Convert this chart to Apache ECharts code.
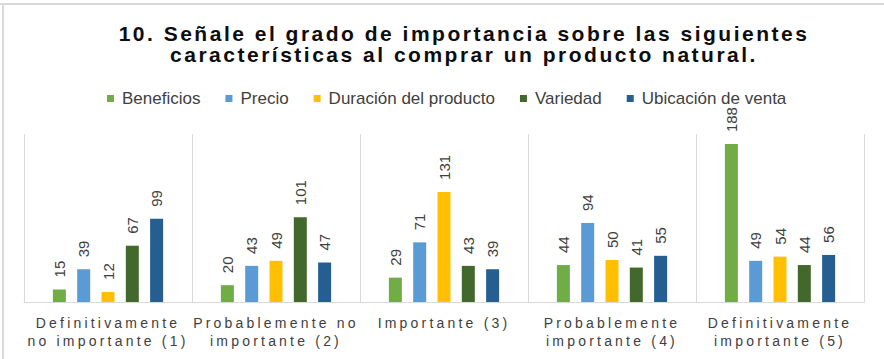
<!DOCTYPE html>
<html>
<head>
<meta charset="utf-8">
<script src="https://cdn.jsdelivr.net/npm/echarts@6/dist/echarts.min.js"></script>
<style>
  html, body { margin: 0; padding: 0; background: #ffffff; }
  #chart { width: 884px; height: 359px; }
  /* spaced lettering for the heading and the category names */
  #chart text[style*="Arial"] { letter-spacing: 2.5px; }
  #chart text[style*="Arimo"] { letter-spacing: 3.2px; }
</style>
</head>
<body>
<div id="chart"></div>
<script>
const categories = [
  'Definitivamente\nno importante (1)',
  'Probablemente no\nimportante (2)',
  'Importante (3)',
  'Probablemente\nimportante (4)',
  'Definitivamente\nimportante (5)'
];
const seriesNames = ['Beneficios', 'Precio', 'Duración del producto', 'Variedad', 'Ubicación de venta'];
const beneficios = [15, 20, 29, 44, 188];
const precio = [39, 43, 71, 94, 49];
const duracion = [12, 49, 131, 50, 54];
const variedad = [67, 101, 43, 41, 44];
const ubicacion = [99, 47, 39, 55, 56];
const colors = ['#70AD47', '#5B9BD5', '#FFC000', '#43682B', '#255E91'];
const titleLines = [
  '10. Señale el grado de importancia sobre las siguientes',
  'características al comprar un producto natural.'
];

const TITLE_FONT = 'Liberation Sans, Arial';
const AXIS_FONT = 'Liberation Sans, Arimo';
const PLAIN = 'Liberation Sans';

const values = [beneficios, precio, duracion, variedad, ubicacion];

const chart = echarts.init(document.getElementById('chart'), null, { renderer: 'svg' });

chart.setOption({
  animation: false,
  backgroundColor: '#ffffff',
  color: colors,
  graphic: [
    { type: 'line', shape: { x1: 0, y1: 4, x2: 884, y2: 4 }, style: { stroke: '#d9d9d9', lineWidth: 2 } },
    { type: 'line', shape: { x1: 3, y1: 3, x2: 3, y2: 359 }, style: { stroke: '#d9d9d9', lineWidth: 2 } },
    {
      type: 'text', x: 464, y: 23,
      style: {
        text: titleLines.join('\n'),
        fontFamily: TITLE_FONT, fontSize: 21, fontWeight: 'bold', lineHeight: 21,
        fill: '#0d0d0d', align: 'center', verticalAlign: 'top'
      }
    }
  ],
  legend: {
    left: 102, top: 85,
    itemWidth: 7, itemHeight: 7, itemGap: 25,
    icon: 'rect',
    textStyle: { fontFamily: PLAIN, fontSize: 17, color: '#404040', padding: [0, 0, 0, 3] },
    data: seriesNames
  },
  grid: { left: 24, right: 20, top: 134, bottom: 57, containLabel: false },
  xAxis: {
    type: 'category',
    data: categories,
    axisLine: { show: true, lineStyle: { color: '#d9d9d9', width: 1 } },
    axisTick: { show: false },
    splitLine: { show: true, interval: 0, lineStyle: { color: '#d9d9d9', width: 1 } },
    axisLabel: {
      interval: 0, margin: 12,
      fontFamily: AXIS_FONT, fontSize: 14, lineHeight: 18, color: '#404040'
    }
  },
  yAxis: {
    type: 'value', min: 0, max: 200,
    show: false,
    splitLine: { show: false }
  },
  series: seriesNames.map((name, i) => ({
    name: name,
    type: 'bar',
    data: values[i],
    barWidth: 13,
    barGap: '87%',
    itemStyle: { color: colors[i] },
    label: {
      show: true, position: 'top', distance: 12, rotate: 90,
      align: 'left', verticalAlign: 'middle',
      fontFamily: PLAIN, fontSize: 15, color: '#404040'
    }
  }))
});
</script>
</body>
</html>
